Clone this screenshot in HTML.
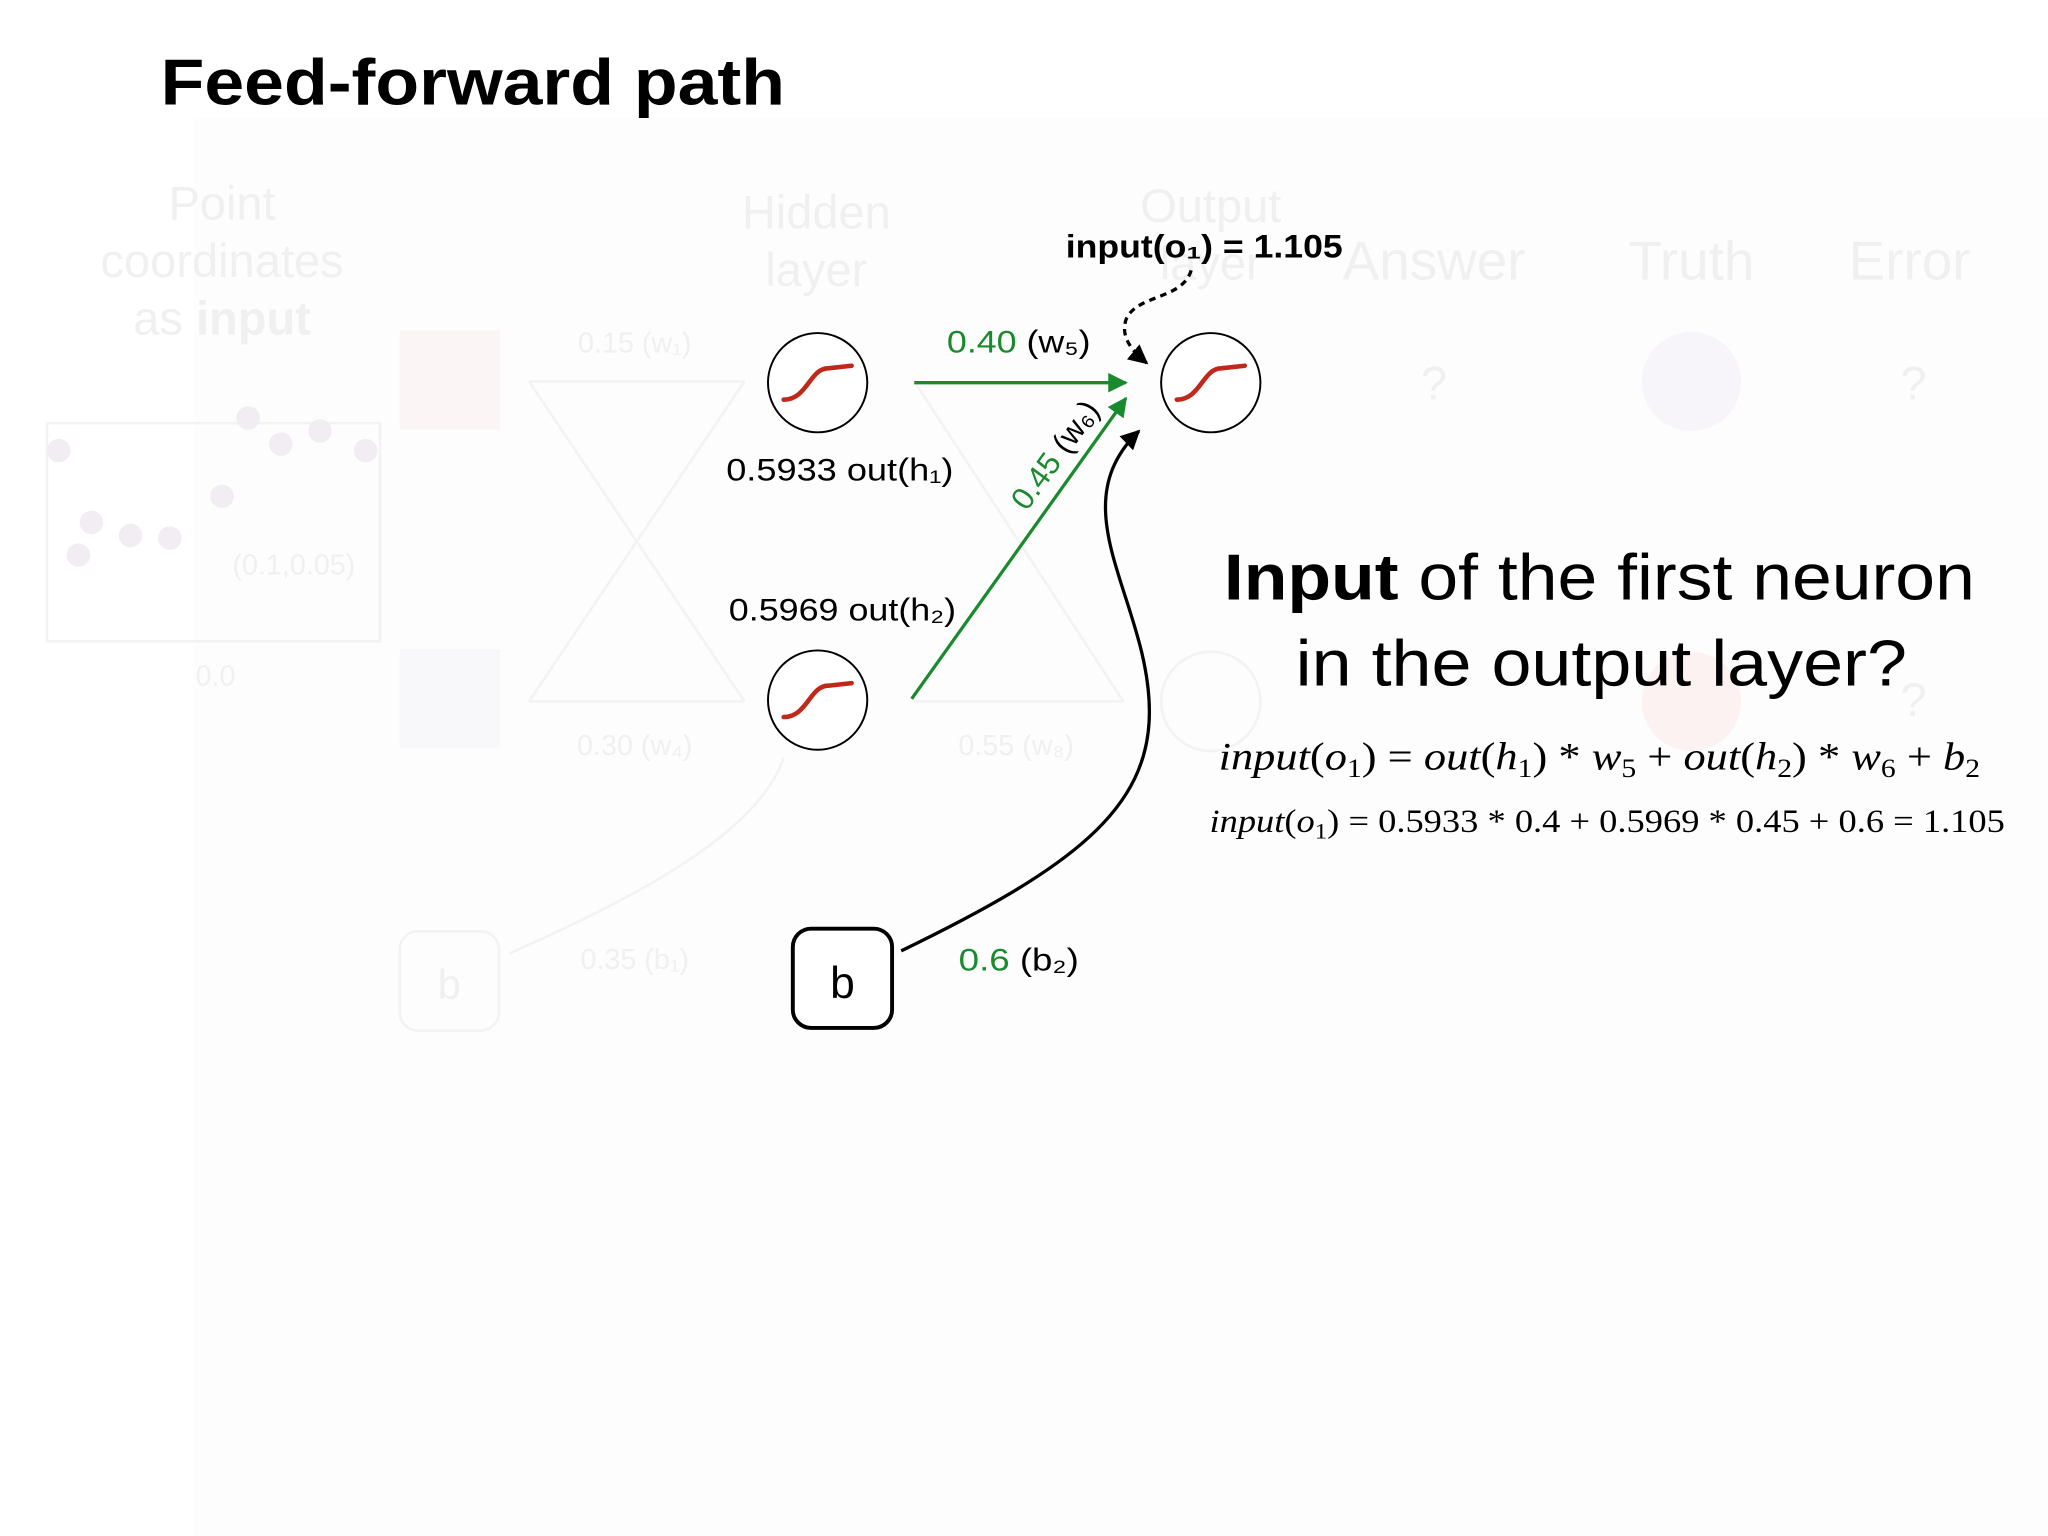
<!DOCTYPE html>
<html><head><meta charset="utf-8"><style>
html,body{margin:0;padding:0;background:#fff;}
svg{display:block;}
text{font-family:"Liberation Sans",sans-serif;}
</style></head><body>
<svg width="2048" height="1536" viewBox="0 0 1568 1176" preserveAspectRatio="none" xmlns="http://www.w3.org/2000/svg">
<defs>
<marker id="ag" viewBox="0 0 10 10" refX="9" refY="5" markerWidth="6" markerHeight="6" orient="auto"><path d="M0,0 L10,5 L0,10 z" fill="#1a8a2e"/></marker>
<marker id="ab" viewBox="0 0 10 10" refX="9" refY="5" markerWidth="6" markerHeight="6" orient="auto"><path d="M0,0 L10,5 L0,10 z" fill="#000"/></marker>
</defs>
<rect width="1568" height="1176" fill="#fff"/>
<rect x="148" y="90" width="1420" height="1086" fill="#fdfdfd"/>
<g fill="#f0f0f0" font-size="36" text-anchor="middle">
<text x="170" y="168">Point</text><text x="170" y="212">coordinates</text><text x="170" y="256">as <tspan font-weight="bold">input</tspan></text>
<text x="625" y="175">Hidden</text><text x="625" y="219">layer</text>
<text x="927" y="170">Output</text><text x="927" y="214">layer</text>
<text x="1098" y="214" font-size="42">Answer</text><text x="1295" y="214" font-size="42">Truth</text><text x="1462" y="214" font-size="42">Error</text>
<text x="1098" y="306">?</text><text x="1465" y="306">?</text><text x="1465" y="548">?</text>
</g>
<g fill="none" stroke="#f3f3f3" stroke-width="2">
<rect x="36" y="324" width="255" height="167"/>
<line x1="405" y1="292" x2="570" y2="292"/><line x1="405" y1="537" x2="570" y2="537"/>
<line x1="405" y1="292" x2="570" y2="537"/><line x1="405" y1="537" x2="570" y2="292"/>
<line x1="700" y1="537" x2="860" y2="537"/><line x1="700" y1="292" x2="860" y2="537"/>
<rect x="306" y="713" width="76" height="76" rx="14"/>
<path d="M390,730 C480,690 580,640 600,580"/>
<circle cx="927" cy="537" r="38"/>
</g>
<rect x="306" y="253" width="77" height="76" fill="#fcf5f5"/>
<rect x="306" y="497" width="77" height="76" fill="#f8f7f9"/>
<circle cx="1295" cy="292" r="38" fill="#f8f5fa"/>
<circle cx="1295" cy="537" r="38" fill="#fcf2f2"/>
<g fill="#f1edf2"><circle cx="45" cy="345" r="9"/><circle cx="70" cy="400" r="9"/><circle cx="100" cy="410" r="9"/><circle cx="130" cy="412" r="9"/><circle cx="170" cy="380" r="9"/><circle cx="190" cy="320" r="9"/><circle cx="215" cy="340" r="9"/><circle cx="245" cy="330" r="9"/><circle cx="280" cy="345" r="9"/><circle cx="60" cy="425" r="9"/></g>
<g fill="#f0f0f0" font-size="22" text-anchor="middle">
<text x="486" y="270">0.15 (w₁)</text><text x="486" y="578">0.30 (w₄)</text><text x="778" y="578">0.55 (w₈)</text><text x="486" y="742">0.35 (b₁)</text><text x="225" y="440">(0.1,0.05)</text><text x="165" y="525">0.0</text>
<text x="344" y="765" font-size="32">b</text>
</g>
<text x="123" y="80" font-size="50" font-weight="bold" fill="#000" textLength="478" lengthAdjust="spacingAndGlyphs">Feed-forward path</text>
<g fill="#fff" stroke="#000" stroke-width="1.5">
<circle cx="626" cy="293" r="38"/><circle cx="626" cy="536" r="38"/><circle cx="927" cy="293" r="38"/>
</g>
<g fill="none" stroke="#c0281a" stroke-width="3.5" stroke-linecap="round">
<path d="M600,306 C618,306 620,282 634,282 L652,280"/>
<path d="M600,549 C618,549 620,525 634,525 L652,523"/>
<path d="M901,306 C919,306 921,282 935,282 L953,280"/>
</g>
<line x1="700" y1="293" x2="862" y2="293" stroke="#1a8a2e" stroke-width="2.5" marker-end="url(#ag)"/>
<line x1="698" y1="535" x2="862" y2="305" stroke="#1a8a2e" stroke-width="2.5" marker-end="url(#ag)"/>
<path d="M690,728 C820,665 880,620 880,545 C880,460 810,390 872,330" fill="none" stroke="#000" stroke-width="2.5" marker-end="url(#ab)"/>
<path d="M912,207 C905,230 870,225 862,245 C858,258 866,268 878,278" fill="none" stroke="#000" stroke-width="2.5" stroke-dasharray="5,4" marker-end="url(#ab)"/>
<rect x="607" y="711" width="76" height="76" rx="14" fill="#fff" stroke="#000" stroke-width="3"/>
<text x="645" y="764" font-size="34" text-anchor="middle">b</text>
<text x="725" y="270" font-size="24" fill="#1a8a2e" textLength="110" lengthAdjust="spacingAndGlyphs">0.40 <tspan fill="#000">(w₅)</tspan></text>
<text x="734" y="743" font-size="24" fill="#1a8a2e" textLength="92" lengthAdjust="spacingAndGlyphs">0.6 <tspan fill="#000">(b₂)</tspan></text>
<text transform="translate(786,392) rotate(-54)" font-size="24" fill="#1a8a2e">0.45 <tspan fill="#000">(w₆)</tspan></text>
<text x="556" y="368" font-size="24" textLength="174" lengthAdjust="spacingAndGlyphs">0.5933 out(h₁)</text>
<text x="558" y="475" font-size="24" textLength="174" lengthAdjust="spacingAndGlyphs">0.5969 out(h₂)</text>
<text x="816" y="197" font-size="25" font-weight="bold" textLength="212" lengthAdjust="spacingAndGlyphs">input(o₁) = 1.105</text>
<text x="937" y="459" font-size="50" textLength="575" lengthAdjust="spacingAndGlyphs"><tspan font-weight="bold">Input</tspan> of the first neuron</text>
<text x="992" y="525" font-size="50" textLength="468" lengthAdjust="spacingAndGlyphs">in the output layer?</text>
<text x="933" y="589" font-size="30" style="font-family:'Liberation Serif',serif" textLength="583" lengthAdjust="spacingAndGlyphs"><tspan font-style="italic">input</tspan>(<tspan font-style="italic">o</tspan><tspan font-size="20" dy="6">1</tspan><tspan dy="-6">) = </tspan><tspan font-style="italic">out</tspan>(<tspan font-style="italic">h</tspan><tspan font-size="20" dy="6">1</tspan><tspan dy="-6">) * </tspan><tspan font-style="italic">w</tspan><tspan font-size="20" dy="6">5</tspan><tspan dy="-6"> + </tspan><tspan font-style="italic">out</tspan>(<tspan font-style="italic">h</tspan><tspan font-size="20" dy="6">2</tspan><tspan dy="-6">) * </tspan><tspan font-style="italic">w</tspan><tspan font-size="20" dy="6">6</tspan><tspan dy="-6"> + </tspan><tspan font-style="italic">b</tspan><tspan font-size="20" dy="6">2</tspan></text>
<text x="926" y="637" font-size="25" style="font-family:'Liberation Serif',serif" textLength="609" lengthAdjust="spacingAndGlyphs"><tspan font-style="italic">input</tspan>(<tspan font-style="italic">o</tspan><tspan font-size="17" dy="5">1</tspan><tspan dy="-5">) = 0.5933 * 0.4 + 0.5969 * 0.45 + 0.6 = 1.105</tspan></text>
</svg>
</body></html>
